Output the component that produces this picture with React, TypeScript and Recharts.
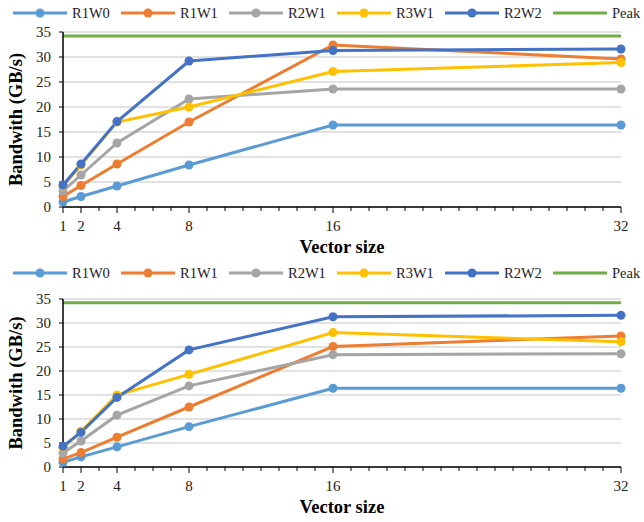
import {
  LineChart,
  Line,
  XAxis,
  YAxis,
  CartesianGrid,
  Legend,
} from "recharts";

// vector sizes on the x axis
const vectorSizes = [1, 2, 4, 8, 16, 32];
const labelledTicks = [1, 2, 4, 8, 16, 32];
const yTicks = [0, 5, 10, 15, 20, 25, 30, 35];
const peakValue = 34.2;

// top panel
const topR1W0 = [1.0, 2.1, 4.2, 8.4, 16.4, 16.4];
const topR1W1 = [2.1, 4.3, 8.6, 17.0, 32.4, 29.6];
const topR2W1 = [3.2, 6.4, 12.8, 21.6, 23.6, 23.6];
const topR3W1 = [4.2, 8.4, 17.0, 20.0, 27.1, 28.9];
const topR2W2 = [4.4, 8.6, 17.1, 29.2, 31.3, 31.6];

// bottom panel
const botR1W0 = [1.0, 2.1, 4.2, 8.4, 16.4, 16.4];
const botR1W1 = [1.7, 3.0, 6.2, 12.5, 25.1, 27.3];
const botR2W1 = [2.9, 5.4, 10.8, 16.9, 23.4, 23.6];
const botR3W1 = [4.1, 7.4, 15.0, 19.3, 28.0, 26.1];
const botR2W2 = [4.3, 7.2, 14.5, 24.4, 31.3, 31.6];

const seriesNames = ["R1W0", "R1W1", "R2W1", "R3W1", "R2W2", "Peak"];
const seriesColors = ["#5B9BD5", "#ED7D31", "#A5A5A5", "#FFC000", "#4472C4", "#70AD47"];

const FONT = '"Liberation Serif", "Times New Roman", serif';

// every integer gets a small tick mark, only the powers of two get labels
const allTicks = Array.from({ length: 32 }, (_, i) => i + 1);

function buildRows(values: number[][]) {
  return vectorSizes.map((x, i) => ({
    x,
    R1W0: values[0][i],
    R1W1: values[1][i],
    R2W1: values[2][i],
    R3W1: values[3][i],
    R2W2: values[4][i],
    Peak: peakValue,
  }));
}

const XTick = ({ x, y, payload }: any) => {
  const major = labelledTicks.includes(payload.value);
  return (
    <g>
      <line x1={x} x2={x} y1={y} y2={y + (major ? 6 : 4)} stroke="#000" strokeWidth={1} />
      {major && (
        <text
          x={x}
          y={y + 19}
          textAnchor="middle"
          dominantBaseline="central"
          fill="#222"
          style={{ fontSize: 15, fontFamily: FONT }}
        >
          {payload.value}
        </text>
      )}
    </g>
  );
};

const LegendRow = () => (
  <div style={{ display: "flex", paddingLeft: 13, height: 26, alignItems: "center" }}>
    {seriesNames.map((name, i) => (
      <div key={name} style={{ display: "flex", alignItems: "center", width: 108, flexShrink: 0 }}>
        <svg width={54} height={12} style={{ marginRight: 5 }}>
          <line x1={0} x2={54} y1={6} y2={6} stroke={seriesColors[i]} strokeWidth={3} />
          {name !== "Peak" && <circle cx={27} cy={6} r={4.5} fill={seriesColors[i]} />}
        </svg>
        <span style={{ fontSize: 14.5, fontFamily: FONT, color: "#222" }}>{name}</span>
      </div>
    ))}
  </div>
);

function BandwidthChart({
  values,
  height,
  marginTop,
  marginBottom,
}: {
  values: number[][];
  height: number;
  marginTop: number;
  marginBottom: number;
}) {
  const rows = buildRows(values);
  return (
    <LineChart
      width={644}
      height={height}
      data={rows}
      margin={{ top: marginTop, right: 23, bottom: marginBottom, left: 0 }}
      style={{ fontFamily: FONT }}
    >
      <Legend
        verticalAlign="top"
        content={() => <LegendRow />}
        wrapperStyle={{ top: 0, left: 0, width: 644, height: 26 }}
      />
      <CartesianGrid vertical={false} stroke="#d9d9d9" strokeWidth={1.5} />
      <XAxis
        dataKey="x"
        type="number"
        domain={[1, 32]}
        ticks={allTicks}
        interval={0}
        height={48}
        tickSize={0}
        tickMargin={0}
        tickLine={false}
        tick={<XTick />}
        axisLine={{ stroke: "#000", strokeWidth: 1.5 }}
        label={{
          value: "Vector size",
          position: "insideBottom",
          offset: 2,
          fill: "#000",
          style: { fontSize: 18.5, fontWeight: "bold", fontFamily: FONT },
        }}
      />
      <YAxis
        width={63}
        domain={[0, 35]}
        ticks={yTicks}
        interval={0}
        tickSize={4}
        tickMargin={8}
        tick={{ fill: "#222", style: { fontSize: 15, fontFamily: FONT } }}
        tickLine={{ stroke: "#000" }}
        axisLine={{ stroke: "#000", strokeWidth: 1.5 }}
        label={{
          value: "Bandwith (GB/s)",
          angle: -90,
          position: "center",
          dx: -16,
          fill: "#000",
          style: { fontSize: 18.5, fontWeight: "bold", fontFamily: FONT },
        }}
      />
      {seriesNames.map((name, i) => (
        <Line
          key={name}
          type="linear"
          dataKey={name}
          stroke={seriesColors[i]}
          strokeWidth={3}
          dot={name === "Peak" ? false : { r: 4.5, fill: seriesColors[i], stroke: seriesColors[i], strokeWidth: 0 }}
          activeDot={false}
          isAnimationActive={false}
        />
      ))}
    </LineChart>
  );
}

export default function App() {
  return (
    <div
      style={{
        position: "absolute",
        top: 0,
        left: 0,
        width: 644,
        height: 522,
        background: "#fff",
        fontFamily: FONT,
      }}
    >
      <BandwidthChart
        values={[topR1W0, topR1W1, topR2W1, topR3W1, topR2W2]}
        height={260}
        marginTop={6}
        marginBottom={5}
      />
      <BandwidthChart
        values={[botR1W0, botR1W1, botR2W1, botR3W1, botR2W2]}
        height={262}
        marginTop={13}
        marginBottom={7}
      />
    </div>
  );
}
